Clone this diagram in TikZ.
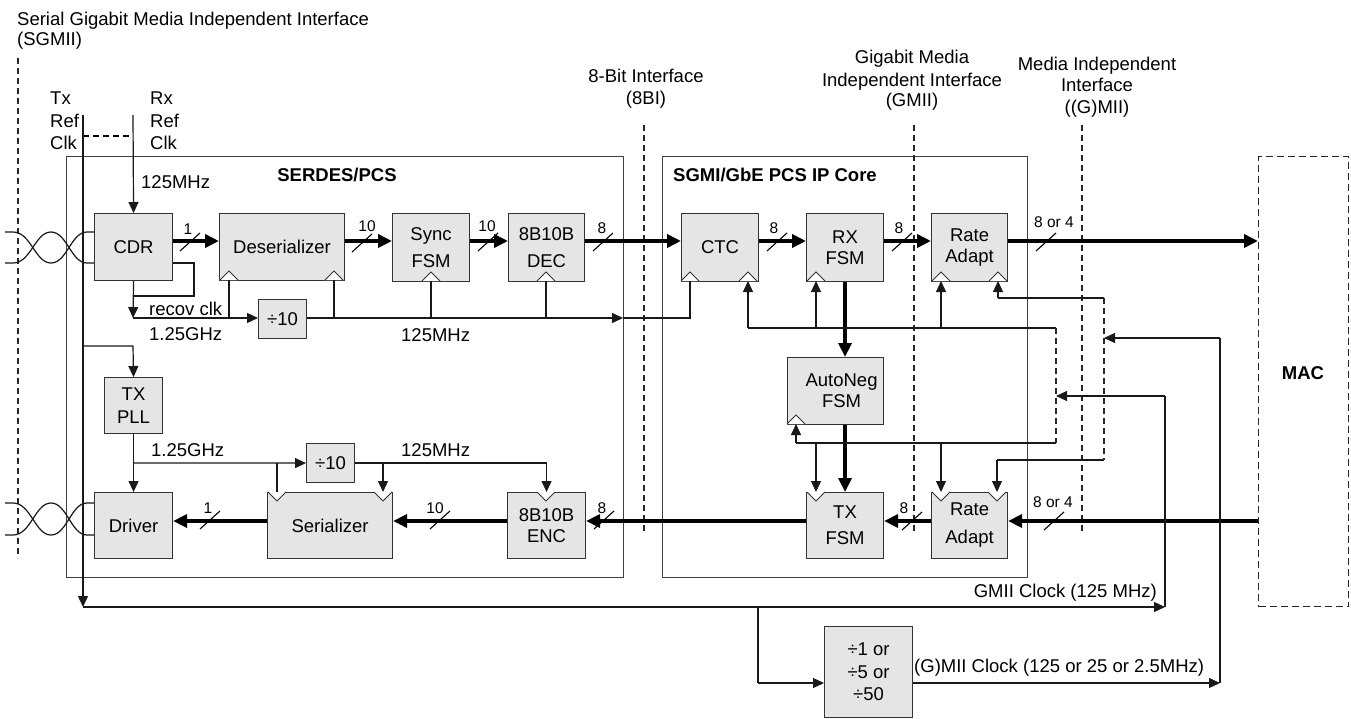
\documentclass[tikz,border=0pt]{standalone}
\usepackage{fontspec}
\setmainfont{Liberation Sans}
\usetikzlibrary{arrows.meta,calc}
\newcommand\fnt{\fontsize{18.5}{21}\selectfont}
\newcommand\sfnt{\fontsize{15.5}{17}\selectfont}
\newcommand\bwmark[6]{\draw[tick] (#1-10,#2+9) -- (#1+10,#2-9); \node[bw] (#6) at (#4,#5) {#3};}
\newcommand\clkU[2]{\filldraw[clk] (#1-9,#2) -- (#1,#2-9) -- (#1+9,#2);}
\newcommand\clkD[2]{\filldraw[clk] (#1-9,#2) -- (#1,#2+9) -- (#1+9,#2);}
\newcommand\twist[2]{%
  \draw[ln] (5,#1) -- (13,#1) .. controls (31,#1) and (35,#2) .. (51,#2) .. controls (67,#2) and (71,#1) .. (87,#1) -- (94,#1);
  \draw[ln] (5,#2) -- (13,#2) .. controls (31,#2) and (35,#1) .. (51,#1) .. controls (67,#1) and (71,#2) .. (87,#2) -- (94,#2);}
\begin{document}
\begin{tikzpicture}[x=1pt,y=-1pt,
  font=\fnt,
  box/.style={draw=black!80, fill=black!10, line width=1.1pt, inner sep=0pt, align=center, anchor=north west, font=\fnt},
  frame/.style={draw=black!75, line width=1.2pt, anchor=north west, inner sep=0pt},
  ln/.style={line width=1.2pt, draw=black!90},
  arr/.style={ln, -{Triangle[length=11pt,width=10pt]}},
  thk/.style={line width=4.8pt, draw=black, -{Triangle[length=14pt,width=13pt]}},
  dsh/.style={line width=1.1pt, draw=black!85, dash pattern=on 6pt off 4pt},
  tick/.style={line width=1.1pt},
  bw/.style={font=\sfnt, inner sep=0pt},
  clk/.style={fill=white, draw=black!80, line width=1pt},
  lbl/.style={font=\fnt, inner sep=0pt},
]
\useasboundingbox (0,0) rectangle (1351,719);

% ---------- containers ----------
\node[frame, minimum width=557pt, minimum height=421pt] (serdes) at (66,156) {};
\node[frame, minimum width=365pt, minimum height=421pt] (pcs) at (662,156) {};
\node[draw=black!85, dash pattern=on 7pt off 4pt, line width=1.1pt, anchor=north west, minimum width=90pt, minimum height=450pt, inner sep=0pt] (mac) at (1258,156) {};
\node[font=\fnt\bfseries] (serdesT) at (337,175) {SERDES/PCS};
\node[font=\fnt\bfseries] (pcsT) at (775,175) {SGMI/GbE PCS IP Core};
\node[font=\fnt\bfseries] (macT) at (1303,373) {MAC};

% ---------- interface lines and labels ----------
\draw[dsh] (18,58) -- (18,558);
\node[lbl, anchor=base west] (sg1) at (17,26) {Serial Gigabit Media Independent Interface};
\node[lbl, anchor=base west] (sg2) at (17,46) {(SGMII)};
\draw[dsh] (644,125) -- (644,533);
\node[lbl, anchor=base] (bi1) at (646,83) {8-Bit Interface};
\node[lbl, anchor=base] (bi2) at (646,105) {(8BI)};
\draw[dsh] (914,125) -- (914,533);
\node[lbl, anchor=base] (gm1) at (912,64) {Gigabit Media};
\node[lbl, anchor=base] (gm2) at (912,87) {Independent Interface};
\node[lbl, anchor=base] (gm3) at (912,107) {(GMII)};
\draw[dsh] (1082,125) -- (1082,533);
\node[lbl, anchor=base] (mi1) at (1097,71) {Media Independent};
\node[lbl, anchor=base] (mi2) at (1097,92) {Interface};
\node[lbl, anchor=base] (mi3) at (1097,114) {((G)MII)};

% ---------- reference clock labels ----------
\node[lbl, anchor=base west] (tx1) at (50,105) {Tx};
\node[lbl, anchor=base west] (tx2) at (50,128) {Ref};
\node[lbl, anchor=base west] (tx3) at (50,150) {Clk};
\node[lbl, anchor=base west] (rx1) at (150,105) {Rx};
\node[lbl, anchor=base west] (rx2) at (150,128) {Ref};
\node[lbl, anchor=base west] (rx3) at (150,150) {Clk};
\coordinate (txref) at (83,115);
\coordinate (rxref) at (133,115);

% ---------- blocks ----------
\node[box,minimum width=78pt,minimum height=67pt] (cdr) at (94,213) {CDR};
\node[box,minimum width=125pt,minimum height=67pt] (des) at (219,213) {Deserializer};
\node[box,minimum width=77pt,minimum height=68pt] (sync) at (392,213) {Sync\\[6pt]FSM};
\node[box,minimum width=76pt,minimum height=68pt] (dec) at (508,213) {8B10B\\[6pt]DEC};
\node[box,minimum width=77pt,minimum height=68pt] (ctc) at (681,213) {CTC};
\node[box,minimum width=77pt,minimum height=68pt] (rxf) at (806,213) {RX\\FSM};
\node[box,minimum width=76pt,minimum height=68pt] (rata) at (931,213) {Rate\\Adapt};
\node[box,minimum width=96pt,minimum height=67pt] (aneg) at (787,357) {\hspace*{12pt}AutoNeg\\\hspace*{12pt}FSM};
\node[box,minimum width=77pt,minimum height=66pt] (txf) at (806,492) {TX\\[5pt]FSM};
\node[box,minimum width=76pt,minimum height=66pt] (ratb) at (931,492) {Rate\\[7pt]Adapt};
\node[box,minimum width=58pt,minimum height=56pt] (pll) at (104,377) {TX\\[2pt]PLL};
\node[box,minimum width=48pt,minimum height=39pt] (divr) at (258,299) {÷10};
\node[box,minimum width=48pt,minimum height=39pt] (divt) at (306,443) {÷10};
\node[box,minimum width=78pt,minimum height=66pt] (drv) at (94,492) {Driver};
\node[box,minimum width=125pt,minimum height=66pt] (ser) at (267,492) {Serializer};
\node[box,minimum width=78pt,minimum height=66pt] (enc) at (507,492) {8B10B\\ENC};
\node[box,minimum width=88pt,minimum height=91pt] (divg) at (824,626) {÷1 or\\[1.5pt]÷5 or\\[1.5pt]÷50};

% clock triangles
\clkU{229}{280}\clkU{334}{280}\clkU{431}{281}\clkU{546}{281}
\clkU{690}{281}\clkU{748}{281}\clkU{816}{281}\clkU{941}{281}\clkU{998}{281}
\clkU{796}{424}
\clkD{816}{492}\clkD{941}{492}\clkD{997}{492}
\clkD{277}{492}\clkD{383}{492}\clkD{546}{492}

% twisted pairs
\twist{232}{263}
\twist{503}{535}

% ---------- data paths ----------
\coordinate (rowA) at (0,241);
\coordinate (rowB) at (0,521);
\draw[thk] (cdr.east |- rowA) -- (des.west |- rowA);
\draw[thk] (des.east |- rowA) -- (sync.west |- rowA);
\draw[thk] (sync.east |- rowA) -- (dec.west |- rowA);
\draw[thk] (dec.east |- rowA) -- (ctc.west |- rowA);
\draw[thk] (ctc.east |- rowA) -- (rxf.west |- rowA);
\draw[thk] (rxf.east |- rowA) -- (rata.west |- rowA);
\draw[thk] (rata.east |- rowA) -- (mac.west |- rowA);
\draw[thk] (rxf.south) -- (aneg.north -| rxf.south);
\draw[thk] (aneg.south -| txf.north) -- (txf.north);
\draw[thk] (mac.west |- rowB) -- (ratb.east |- rowB);
\draw[thk] (ratb.west |- rowB) -- (txf.east |- rowB);
\draw[thk] (txf.west |- rowB) -- (enc.east |- rowB);
\draw[thk] (enc.west |- rowB) -- (ser.east |- rowB);
\draw[thk] (ser.west |- rowB) -- (drv.east |- rowB);

% bus width marks
\bwmark{190}{242}{1}{188}{229}{w1}
\bwmark{362}{243}{10}{367}{226}{w2}
\bwmark{488}{242}{10}{487}{226}{w3}
\bwmark{603}{242}{8}{602}{228}{w4}
\bwmark{777}{242}{8}{774}{228}{w5}
\bwmark{902}{242}{8}{899}{228}{w6}
\bwmark{1046}{242}{8 or 4}{1054}{222}{w7}
\bwmark{1054}{521}{8 or 4}{1053}{502}{w8}
\bwmark{912}{521}{8}{904}{508}{w9}
\bwmark{604}{520}{8}{602}{508}{w10}
\bwmark{440}{520}{10}{435}{508}{w11}
\bwmark{210}{520}{1}{208}{508}{w12}

% ---------- reference clocks ----------
\draw[dash pattern=on 6pt off 4pt, line width=2pt] (txref |- 0,136) -- (rxref |- 0,136);
\draw[arr] (rxref) -- (cdr.north);
\node[lbl, anchor=west] (f1) at (141,182) {125MHz};
\coordinate (gbus) at (83,607);
\draw[arr] (txref) -- (gbus);
\coordinate (gend) at (1165,607);
\draw[arr] (gbus) -- (gend);
\node[lbl, anchor=east] (gclkT) at (1157,593) {GMII Clock (125 MHz)};

% TX PLL and TX clocks
\draw[arr] (83,346) -- (133,346) -- (pll.north);
\draw[arr] (pll.south) -- (drv.north);
\draw[arr] (133,463) -- (divt.west);
\draw[ln] (277,463) -- (277,492);
\draw[arr] (divt.east) -| (enc.north);
\draw[arr] (383,463) -- (383,492);
\node[lbl, anchor=west] (f2) at (151,450) {1.25GHz};
\node[lbl, anchor=west] (f3) at (401,450) {125MHz};

% RX recovered clocks
\draw[ln] (cdr.east |- 0,263) -- (194,263) -- (194,296) -- (133,296);
\coordinate (rc) at (133,318);
\draw[arr] (cdr.south) -- (rc);
\draw[arr] (rc) -- (divr.west |- rc);
\draw[ln] (229,318) -- (229,280);
\draw[arr] (divr.east |- rc) -- (623,318);
\draw[ln] (623,318) -- (690,318) -- (690,281);
\draw[ln] (334,318) -- (334,280);
\draw[ln] (431,318) -- (431,281);
\draw[ln] (546,318) -- (546,281);
\node[lbl, anchor=west] (f4) at (149,309) {recov clk};
\node[lbl, anchor=west] (f5) at (149,334) {1.25GHz};
\node[lbl, anchor=west] (f6) at (401,335) {125MHz};

% ---------- PCS clocks ----------
\coordinate (ma1) at (1056,328);
\coordinate (ma2) at (1056,443);
\coordinate (mb1) at (1104,298);
\coordinate (mb2) at (1104,460);
\draw[ln] (748,328) -- (ma1);
\draw[arr] (748,328) -- (748,281);
\draw[arr] (816,328) -- (816,281);
\draw[arr] (941,328) -- (941,281);
\draw[ln] (796,443) -- (ma2);
\draw[arr] (796,443) -- (796,424);
\draw[arr] (816,443) -- (816,492);
\draw[arr] (941,443) -- (941,492);
\draw[dsh] (ma1) -- (ma2);
\draw[ln] (gend) -- (1165,396);
\draw[arr] (1165,396) -- (1056,396);

\draw[ln] (998,298) -- (mb1);
\draw[arr] (998,298) -- (998,281);
\draw[ln] (997,460) -- (mb2);
\draw[arr] (997,460) -- (997,492);
\draw[dsh] (mb1) -- (mb2);

% (G)MII clock divider
\draw[ln] (758,607) -- (758,683);
\draw[arr] (758,683) -- (divg.west |- 0,683);
\coordinate (mend) at (1220,683);
\draw[arr] (divg.east |- 0,683) -- (mend);
\draw[ln] (mend) -- (1220,338);
\draw[arr] (1220,338) -- (1104,338);
\node[lbl, anchor=west] (mclkT) at (914,668) {(G)MII Clock (125 or 25 or 2.5MHz)};
\end{tikzpicture}
\end{document}
